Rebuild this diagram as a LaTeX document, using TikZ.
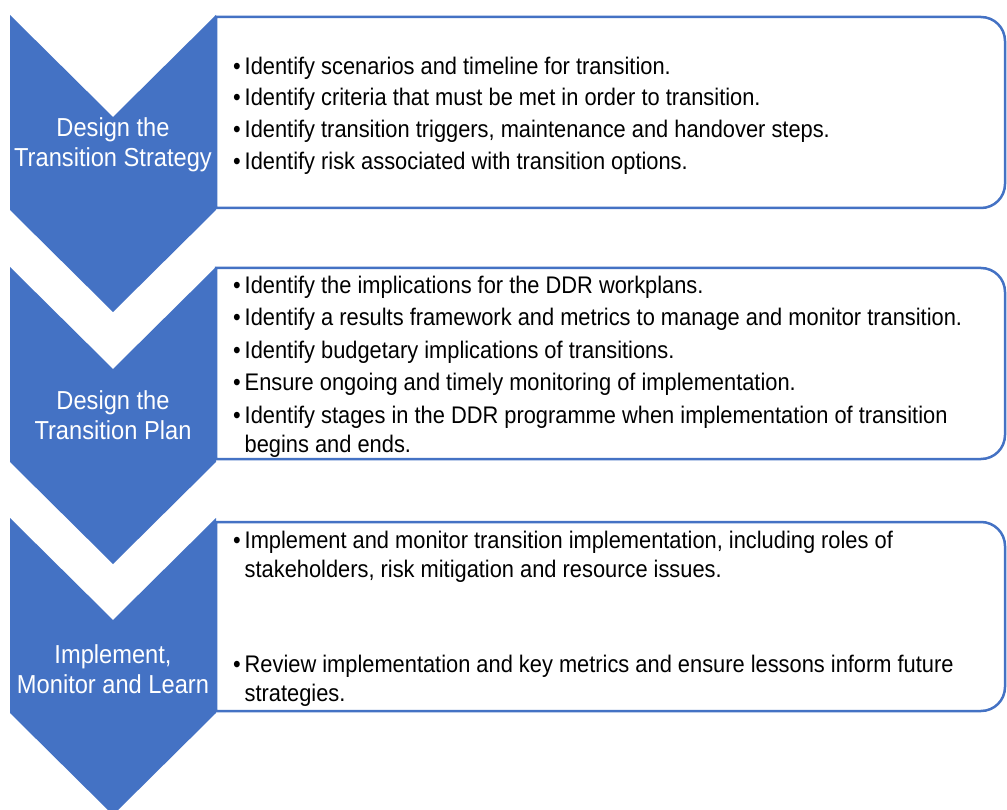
\documentclass[tikz,border=0pt]{standalone}
\usepackage{fontspec}
\setmainfont{Liberation Sans}[FakeStretch=0.91]
\definecolor{chevblue}{HTML}{4472C4}
\newcommand{\bul}{\makebox[11.5pt][l]{\textbullet}}
\newcommand{\ind}{\hspace*{11.5pt}}
\tikzset{
  chev/.style={fill=chevblue, draw=none},
  infobox/.style={draw=chevblue, line width=2.5pt, fill=white},
  chevtext/.style={text=white, align=center, inner sep=0pt, font={\fontsize{26}{30}\selectfont}},
  boxtext/.style={text=black, align=left, inner sep=0pt, anchor=west, font={\fontsize{24}{29}\selectfont}}
}
\newcommand{\infopath}[2]{%
  \draw[infobox] (216,#1) -- (981,#1) .. controls (994.3,#1) and (1005,#1+10.7) .. (1005,#1+24)
    -- (1005,#2-24) .. controls (1005,#2-10.7) and (994.3,#2) .. (981,#2) -- (216,#2) -- cycle;}
\begin{document}
\begin{tikzpicture}[x=1pt, y=-1pt]
\useasboundingbox (0,0) rectangle (1007,810);
\clip (0,0) rectangle (1007,810);
% chevrons
\foreach \t in {15,267,518}{
  \path[chev] (10,\t) -- (113,\t+102) -- (216,\t) -- (216,\t+195) -- (113,\t+297) -- (10,\t+195) -- cycle;
}
% boxes
\infopath{17}{208}
\infopath{268}{459}
\infopath{522}{711}
% chevron labels
\node[chevtext] (c1) at (113,144.5) {Design the\\Transition Strategy};
\node[chevtext] (c2) at (113,415) {Design the\\Transition Plan};
\node[chevtext] (c3) at (113,669) {Implement,\\Monitor and Learn};
% box texts
\node[boxtext] (t1) at (233,115.5) {\bul Identify scenarios and timeline for transition.\\[2.7pt]
\bul Identify criteria that must be met in order to transition.\\[2.7pt]
\bul Identify transition triggers, maintenance and handover steps.\\[2.7pt]
\bul Identify risk associated with transition options.};
\node[boxtext] (t2) at (233,366.5) {\bul Identify the implications for the DDR workplans.\\[3.5pt]
\bul Identify a results framework and metrics to manage and monitor transition.\\[3.5pt]
\bul Identify budgetary implications of transitions.\\[3.5pt]
\bul Ensure ongoing and timely monitoring of implementation.\\[3.5pt]
\bul Identify stages in the DDR programme when implementation of transition\\
\ind begins and ends.};
\node[boxtext] (t3) at (233,618.5) {\bul Implement and monitor transition implementation, including roles of\\
\ind stakeholders, risk mitigation and resource issues.\\[66pt]
\bul Review implementation and key metrics and ensure lessons inform future\\
\ind strategies.};
\end{tikzpicture}
\end{document}
